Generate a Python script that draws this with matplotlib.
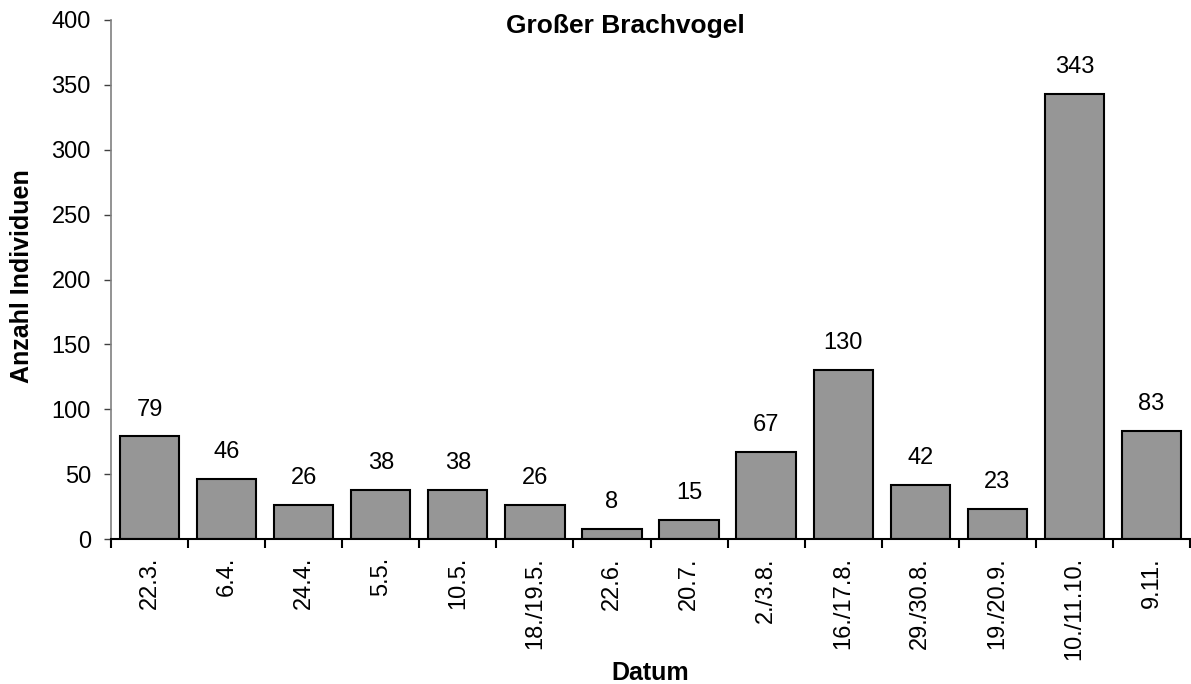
import numpy as np
import matplotlib.pyplot as plt

plt.rcParams['font.family'] = ['Liberation Sans', 'DejaVu Sans']

dates = ["22.3.", "6.4.", "24.4.", "5.5.", "10.5.", "18./19.5.", "22.6.", "20.7.",
         "2./3.8.", "16./17.8.", "29./30.8.", "19./20.9.", "10./11.10.", "9.11."]
counts = [79, 46, 26, 38, 38, 26, 8, 15, 67, 130, 42, 23, 343, 83]

W, H = 1191, 684
fig = plt.figure(figsize=(W / 100, H / 100), dpi=100)
ax = fig.add_axes([111 / W, 1 - 539 / H, (1190 - 111) / W, (539 - 20) / H])

x = np.arange(len(counts))
bars = ax.bar(x, counts, width=0.77, color="#969696", edgecolor="black", linewidth=1.5)

for b, v in zip(bars, counts):
    ax.annotate(str(v), (b.get_x() + b.get_width() / 2, v), xytext=(0, 15),
                textcoords="offset points", ha="center", va="baseline", fontsize=17)

ax.set_xlim(-0.5, len(counts) - 0.5)
ax.set_ylim(0, 400)
ax.set_yticks(range(0, 401, 50))
ax.tick_params(axis="y", labelsize=17, length=5, width=1, color="#404040", direction="out", pad=9.5)

ax.set_xticks(x)
ax.set_xticklabels(dates, rotation=90, fontsize=17)
ax.tick_params(axis="x", length=0, pad=13)
ax.set_xticks(np.arange(len(counts) + 1) - 0.5, minor=True)
ax.tick_params(axis="x", which="minor", length=6.5, width=1.5, color="black", direction="out")

for s in ["top", "right"]:
    ax.spines[s].set_visible(False)
ax.spines["left"].set_color("#808080")
ax.spines["left"].set_linewidth(1.2)
ax.spines["bottom"].set_color("black")
ax.spines["bottom"].set_linewidth(1.5)

fig.text(22 / W, 1 - 276 / H, "Anzahl Individuen", fontsize=18, fontweight="bold",
         rotation=90, ha="center", va="center")
fig.text(650 / W, 1 - 680 / H, "Datum", fontsize=18, fontweight="bold", ha="center", va="baseline")
fig.text(625 / W, 1 - 33 / H, "Großer Brachvogel", fontsize=19, fontweight="bold", ha="center", va="baseline")

fig.savefig("out.png", dpi=100)
